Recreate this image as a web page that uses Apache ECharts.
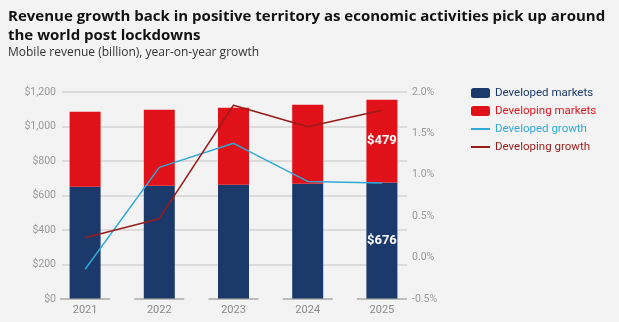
<!DOCTYPE html>
<html><head><meta charset="utf-8">
<script src="https://cdn.jsdelivr.net/npm/echarts@6/dist/echarts.min.js"></script>
<style>html,body{margin:0;padding:0;background:#f3f3f3;}#c{width:619px;height:322px;}</style>
</head><body><div id="c"></div>
<script>
const years = ['2021','2022','2023','2024','2025'];
const developedMarkets = [651, 657, 662, 668, 676];
const developingMarkets = [435, 440, 447, 458, 479];
const developedGrowth = [-0.14, 1.09, 1.38, 0.92, 0.90];
const developingGrowth = [0.24, 0.47, 1.84, 1.58, 1.78];
const leftTicks = {min: 0, max: 1200, interval: 200};
const rightTicks = {min: -0.5, max: 2.0, interval: 0.5};
const baseline = [0, 0, 0, 0, 0];

const C_DEV = '#1b3a6b', C_DEVING = '#e01118', C_DEVG = '#2fa9d9', C_DEVINGG = '#9a1a1a';
const lastIdx = years.length - 1;
function withLabel(arr){
  return arr.map((v,i)=> i===lastIdx ? {value:v, label:{show:true, position:'inside', formatter:'$'+v, color:'#fff', fontWeight:'bold', fontSize:13, fontFamily:'Roboto'}} : v);
}
const TOP = 92, BOTTOM = 23;
const chart = echarts.init(document.getElementById('c'));
chart.setOption({
  backgroundColor:'#f3f3f3',
  animation:false,
  title:[
    {text:'Revenue growth back in positive territory as economic activities pick up around\nthe world post lockdowns', left:3, top:2,
     textStyle:{fontFamily:'Open Sans', fontWeight:'bold', fontSize:15, color:'#111', lineHeight:19}},
    {text:'Mobile revenue (billion), year-on-year growth', left:3, top:42,
     textStyle:{fontFamily:'Open Sans', fontWeight:'normal', fontSize:12, color:'#333'}}
  ],
  legend:{
    orient:'vertical', left:465, top:82, itemGap:6, itemWidth:19, itemHeight:10,
    data:[
      {name:'Developed markets', icon:'roundRect', textStyle:{color:C_DEV}},
      {name:'Developing markets', icon:'roundRect', textStyle:{color:C_DEVING}},
      {name:'Developed growth', itemStyle:{opacity:0}, lineStyle:{width:2}, textStyle:{color:C_DEVG}},
      {name:'Developing growth', itemStyle:{opacity:0}, lineStyle:{width:2}, textStyle:{color:C_DEVINGG}}
    ],
    textStyle:{fontFamily:'Roboto', fontSize:11.5}
  },
  grid:[
    {left:62, right:212, top:TOP, bottom:BOTTOM},
    {left:48, right:200, top:TOP, bottom:BOTTOM}
  ],
  xAxis:[
    {type:'category', gridIndex:0, data:years, show:false},
    {type:'category', gridIndex:1, data:years, axisLine:{show:false}, axisTick:{show:false},
     axisLabel:{color:'#8a8a8a', fontFamily:'Roboto', fontSize:11, margin:6}}
  ],
  yAxis:[
    {type:'value', gridIndex:0, position:'left', min:leftTicks.min, max:leftTicks.max, interval:leftTicks.interval,
     axisLabel:{color:'#9a9a9a', fontFamily:'Roboto', fontSize:10.5, margin:6,
       formatter:v=>'$'+v.toLocaleString('en-US')},
     axisLine:{show:false}, axisTick:{show:false},
     splitLine:{showMinLine:false, lineStyle:{color:'#d3d3d3', width:1.5}}},
    {type:'value', gridIndex:0, position:'right', min:rightTicks.min, max:rightTicks.max, interval:rightTicks.interval,
     axisLabel:{color:'#9a9a9a', fontFamily:'Roboto', fontSize:10.5, margin:5,
       formatter:v=>v.toFixed(1)+'%'},
     axisLine:{show:false}, axisTick:{show:false}, splitLine:{show:false}},
    {type:'value', gridIndex:1, position:'left', min:leftTicks.min, max:leftTicks.max, interval:leftTicks.interval, show:false, splitLine:{show:false}},
    {type:'value', gridIndex:1, position:'right', min:rightTicks.min, max:rightTicks.max, interval:rightTicks.interval, show:false, splitLine:{show:false}}
  ],
  series:[
    {name:'Developed markets', type:'bar', xAxisIndex:1, yAxisIndex:2, stack:'rev', barWidth:31, itemStyle:{color:C_DEV}, data:withLabel(developedMarkets), z:2},
    {name:'Developing markets', type:'bar', xAxisIndex:1, yAxisIndex:2, stack:'rev', barWidth:31, itemStyle:{color:C_DEVING}, data:withLabel(developingMarkets), z:2},
    {name:'baseline', type:'scatter', xAxisIndex:1, yAxisIndex:2, symbol:'rect', symbolSize:[50,1.5], itemStyle:{color:'#9a9a9a'}, data:baseline, z:3, silent:true},
    {name:'Developed growth', type:'line', xAxisIndex:1, yAxisIndex:3, data:developedGrowth, symbol:'none', lineStyle:{color:C_DEVG, width:1.5}, itemStyle:{color:C_DEVG}, z:4},
    {name:'Developing growth', type:'line', xAxisIndex:1, yAxisIndex:3, data:developingGrowth, symbol:'none', lineStyle:{color:C_DEVINGG, width:1.5}, itemStyle:{color:C_DEVINGG}, z:4}
  ]
});
</script></body></html>
